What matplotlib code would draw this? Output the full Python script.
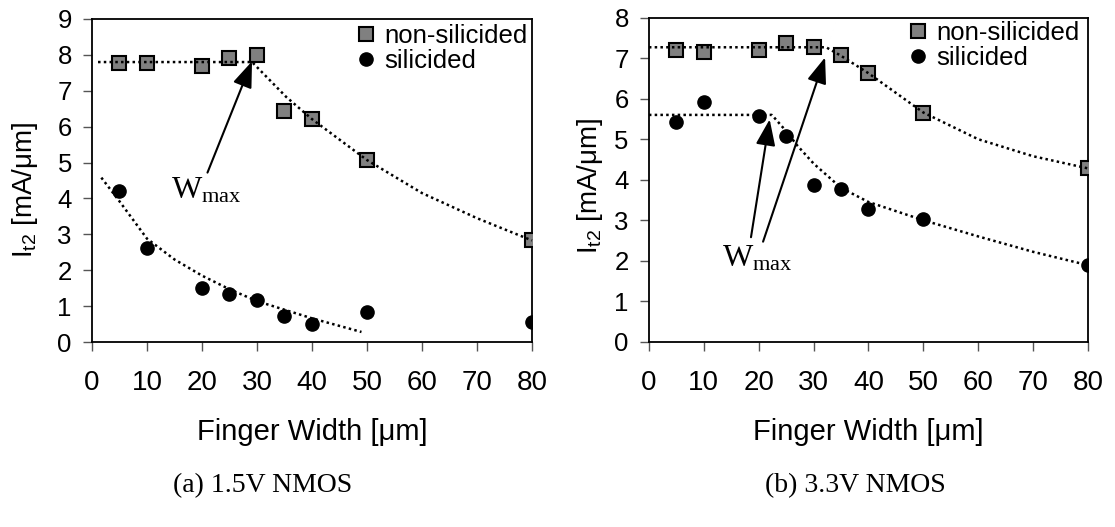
import matplotlib
matplotlib.use("Agg")
import matplotlib.pyplot as plt

plt.rcParams['font.family'] = ['Liberation Sans', 'DejaVu Sans']
plt.rcParams['mathtext.fontset'] = 'custom'
plt.rcParams['mathtext.rm'] = 'Liberation Serif'
plt.rcParams['mathtext.sf'] = 'Liberation Sans'

# finger widths [um]
width = [5, 10, 20, 25, 30, 35, 40, 50, 80]

# (a) 1.5V NMOS
nonsil_a = [7.76, 7.76, 7.68, 7.90, 7.99, 6.44, 6.21, 5.07, 2.83]
sil_a = [4.21, 2.61, 1.50, 1.34, 1.16, 0.73, 0.50, 0.83, 0.55]
trend_nonsil_a_x = [1.1, 29.1, 32.3, 35.3, 40, 50, 60, 70, 80]
trend_nonsil_a_y = [7.80, 7.80, 7.30, 6.83, 6.21, 5.07, 4.15, 3.45, 2.83]
trend_sil_a_x = [1.7, 5, 10, 15, 20, 25, 30, 35, 40, 49]
trend_sil_a_y = [4.58, 3.92, 2.88, 2.30, 1.85, 1.47, 1.14, 0.90, 0.66, 0.28]

# (b) 3.3V NMOS
nonsil_b = [7.20, 7.16, 7.20, 7.37, 7.27, 7.08, 6.63, 5.64, 4.28]
sil_b = [5.43, 5.93, 5.58, 5.08, 3.87, 3.76, 3.27, 3.02, 1.89]
trend_nonsil_b_x = [0, 32.3, 35, 40, 50, 60, 70, 80]
trend_nonsil_b_y = [7.27, 7.27, 7.06, 6.63, 5.66, 5.00, 4.58, 4.28]
trend_sil_b_x = [0, 22.4, 25, 27, 30, 35, 40, 50, 60, 70, 80]
trend_sil_b_y = [5.60, 5.60, 5.20, 4.85, 4.40, 3.80, 3.45, 3.00, 2.60, 2.22, 1.89]


def style_axes(ax, ymax):
    ax.set_xlim(0, 80)
    ax.set_ylim(0, ymax)
    ax.set_xticks(range(0, 81, 10))
    ax.set_yticks(range(0, ymax + 1))
    for s in ax.spines.values():
        s.set_linewidth(1.3)
        s.set_color('black')
    ax.tick_params(axis='x', direction='out', length=6.5, width=1, color='#555555', labelsize=20, pad=14)
    ax.tick_params(axis='y', direction='out', length=6.5, width=1, color='#555555', labelsize=18.5, pad=8)
    ax.set_xlabel('Finger Width [μm]', fontsize=21)
    ax.set_ylabel(r'$\mathsf{I_{t2}}$ [mA/μm]', fontsize=20)


def draw_panel(ax, nonsil, sil, tnx, tny, tsx, tsy):
    ax.plot(width, nonsil, ls='none', marker='s', ms=10, mfc='#808080', mec='black', mew=1.5,
            label='non-silicided', zorder=3)
    ax.plot(width, sil, ls='none', marker='o', ms=9.5, mfc='black', mec='black',
            label='silicided', zorder=3)
    ax.plot(tnx, tny, color='black', lw=1.8, ls=(0, (1, 1.3)), zorder=4, clip_on=False)
    ax.plot(tsx, tsy, color='black', lw=1.8, ls=(0, (1, 1.3)), zorder=4, clip_on=False)


arrow = dict(arrowstyle='-|>,head_length=0.8,head_width=0.3', mutation_scale=20,
             lw=1.5, color='black', shrinkA=0, shrinkB=0)

fig = plt.figure(figsize=(11.15, 5.27), dpi=100)
ax1 = fig.add_axes([0.0825, 0.351, 0.3946, 0.613])
ax2 = fig.add_axes([0.582, 0.3516, 0.3937, 0.6148])

draw_panel(ax1, nonsil_a, sil_a, trend_nonsil_a_x, trend_nonsil_a_y, trend_sil_a_x, trend_sil_a_y)
style_axes(ax1, 9)
ax1.annotate('', xy=(29.1, 7.82), xytext=(21.0, 4.72), arrowprops=arrow)
ax1.text(14.4, 4.0, r'$\mathrm{W_{max}}$', fontsize=23, va='baseline', ha='left')
ax1.legend(loc='upper left', bbox_to_anchor=(0.6, 0.985), frameon=False, fontsize=18.5,
           handlelength=0.8, handletextpad=0.3, labelspacing=0.05, borderaxespad=0, borderpad=0,
           numpoints=1)
ax1.yaxis.set_label_coords(-0.118, 0.47)
ax1.xaxis.set_label_coords(0.5, -0.235)

draw_panel(ax2, nonsil_b, sil_b, trend_nonsil_b_x, trend_nonsil_b_y, trend_sil_b_x, trend_sil_b_y)
style_axes(ax2, 8)
ax2.annotate('', xy=(22.0, 5.49), xytext=(18.6, 2.58), arrowprops=arrow)
ax2.annotate('', xy=(32.1, 7.02), xytext=(20.8, 2.47), arrowprops=arrow)
ax2.text(13.4, 1.85, r'$\mathrm{W_{max}}$', fontsize=23, va='baseline', ha='left')
ax2.legend(loc='upper left', bbox_to_anchor=(0.59, 0.99), frameon=False, fontsize=18.5,
           handlelength=0.8, handletextpad=0.3, labelspacing=0.05, borderaxespad=0, borderpad=0,
           numpoints=1)
ax2.yaxis.set_label_coords(-0.10, 0.48)
ax2.xaxis.set_label_coords(0.5, -0.235)

fig.text(263 / 1115, 1 - 486 / 527, '(a) 1.5V NMOS', ha='center', va='center',
         family='Liberation Serif', fontsize=20)
fig.text(855 / 1115, 1 - 486 / 527, '(b) 3.3V NMOS', ha='center', va='center',
         family='Liberation Serif', fontsize=20)

fig.savefig('out.png', dpi=100)
